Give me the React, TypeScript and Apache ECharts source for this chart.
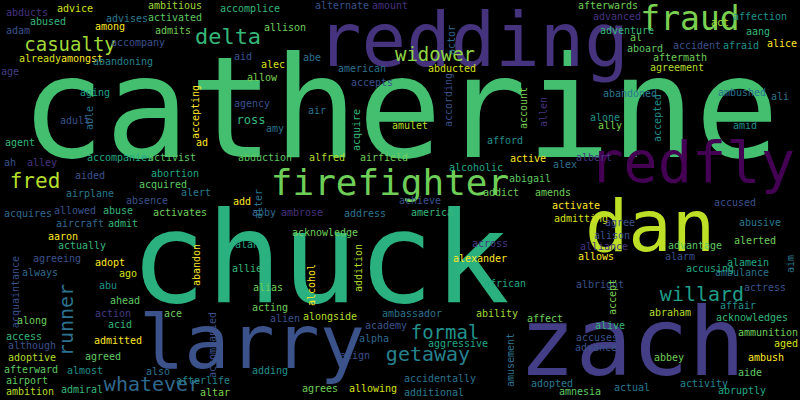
import { useEffect, useRef } from 'react';
import * as echarts from 'echarts';

// word, x, y, font size, colour, rotation
type Word = [string, number, number, number, string, number];

const bigWords: Word[] = [
    ['catherine', 400, 108, 140, '#44bf70', 0],
    ['chuck', 320, 258, 126, '#2bb07f', 0],
    ['zach', 632, 342, 94, '#433e85', 0],
    ['larry', 252, 342, 75, '#3b528b', 0],
    ['redding', 473, 40, 74, '#46337e', 0],
    ['redfly', 692, 162, 57, '#440154', 0],
    ['dan', 650, 226, 72, '#bddf26', 0],
    ['firefighter', 390, 182, 36, '#6ece58', 0],
    ['fraud', 690, 18, 33, '#7ad151', 0],
    ['delta', 228, 36, 22, '#35b779', 0],
    ['casualty', 70, 44, 19, '#a0da39', 0],
    ['widower', 435, 54, 19, '#90d743', 0],
    ['fred', 35, 181, 21, '#b5de2b', 0],
    ['getaway', 428, 354, 20, '#26828e', 0],
    ['willard', 702, 294, 20, '#1f9e89', 0],
    ['formal', 445, 332, 19, '#21918c', 0],
    ['runner', 66, 320, 20, '#2c728e', 90],
    ['whatever', 152, 384, 20, '#31688e', 0],
];

const smallWords: Word[] = [
    ['abducts', 27, 12, 10, '#46337e', 0], ['advice', 75, 8, 10, '#d0e11c', 0],
    ['abused', 48, 21, 10, '#35b779', 0], ['among', 110, 26, 10, '#fde725', 0],
    ['adam', 18, 30, 10, '#3b528b', 0], ['advises', 127, 18, 10, '#2a788e', 0],
    ['ambitious', 175, 5, 10, '#a0da39', 0], ['activated', 175, 17, 10, '#5ec962', 0],
    ['admits', 173, 30, 10, '#6ece58', 0], ['accompany', 138, 42, 10, '#3b528b', 0],
    ['already', 40, 58, 10, '#d8e219', 0], ['amongst', 82, 58, 10, '#fde725', 0],
    ['abandoning', 123, 61, 10, '#25848e', 0], ['age', 10, 71, 10, '#433e85', 0],
    ['aging', 95, 92, 10, '#1f9e89', 0], ['adult', 75, 120, 10, '#3b528b', 0],
    ['able', 89, 118, 10, '#2c728e', 90], ['agent', 20, 142, 10, '#35b779', 0],
    ['ah', 10, 162, 10, '#3b528b', 0], ['alley', 42, 162, 10, '#46337e', 0],
    ['accompanies', 120, 157, 10, '#22a884', 0], ['activist', 172, 157, 10, '#5ec962', 0],
    ['aided', 90, 175, 10, '#3b528b', 0], ['abortion', 175, 173, 10, '#22a884', 0],
    ['airplane', 90, 193, 10, '#2a788e', 0], ['absence', 147, 200, 10, '#3b528b', 0],
    ['acquired', 163, 184, 10, '#5ec962', 0], ['alert', 196, 192, 10, '#2a788e', 0],
    ['activates', 180, 212, 10, '#6ece58', 0], ['acquires', 28, 213, 10, '#31688e', 0],
    ['allowed', 75, 210, 10, '#3b528b', 0], ['abuse', 118, 210, 10, '#35b779', 0],
    ['aircraft', 80, 223, 10, '#31688e', 0], ['admit', 123, 223, 10, '#35b779', 0],
    ['aaron', 63, 236, 10, '#fde725', 0], ['actually', 82, 245, 10, '#35b779', 0],
    ['agreeing', 57, 258, 10, '#3b528b', 0], ['adopt', 110, 262, 10, '#fde725', 0],
    ['always', 40, 272, 10, '#31688e', 0], ['ago', 128, 273, 10, '#d8e219', 0],
    ['acquaintance', 15, 292, 10, '#3b528b', 90], ['abu', 108, 285, 10, '#21918c', 0],
    ['ahead', 125, 300, 10, '#5ec962', 0], ['along', 32, 320, 10, '#6ece58', 0],
    ['action', 113, 313, 10, '#443983', 0], ['acid', 120, 324, 10, '#35b779', 0],
    ['ace', 173, 313, 10, '#6ece58', 0], ['access', 24, 336, 10, '#35b779', 0],
    ['although', 32, 345, 10, '#3b528b', 0], ['admitted', 118, 340, 10, '#fde725', 0],
    ['adoptive', 32, 357, 10, '#b5de2b', 0], ['agreed', 103, 356, 10, '#5ec962', 0],
    ['afterward', 31, 369, 10, '#5ec962', 0], ['almost', 85, 370, 10, '#21918c', 0],
    ['also', 158, 371, 10, '#2c728e', 0], ['airport', 27, 380, 10, '#5ec962', 0],
    ['ambition', 30, 391, 10, '#b5de2b', 0], ['admiral', 82, 389, 10, '#35b779', 0],
    ['accompanied', 212, 345, 10, '#3b528b', 90], ['afterlife', 203, 380, 10, '#25848e', 0],
    ['altar', 215, 392, 10, '#7ad151', 0], ['abandon', 196, 265, 10, '#fde725', 90],
    ['ambrose', 302, 212, 10, '#46337e', 0], ['abby', 264, 212, 10, '#31688e', 0],
    ['add', 242, 201, 10, '#fde725', 0], ['alter', 258, 204, 10, '#2c728e', 90],
    ['alan', 247, 244, 10, '#22a884', 0], ['allie', 247, 268, 10, '#35b779', 0],
    ['alias', 268, 287, 10, '#6ece58', 0], ['acting', 270, 307, 10, '#6ece58', 0],
    ['alien', 285, 318, 10, '#3b528b', 0], ['alcohol', 311, 285, 10, '#fde725', 90],
    ['alongside', 330, 316, 10, '#b5de2b', 0], ['adding', 270, 370, 10, '#21918c', 0],
    ['agrees', 320, 388, 10, '#6ece58', 0], ['allowing', 373, 388, 10, '#d8e219', 0],
    ['addition', 358, 268, 10, '#b5de2b', 90], ['academy', 386, 325, 10, '#3b528b', 0],
    ['alpha', 374, 338, 10, '#31688e', 0], ['align', 355, 355, 10, '#3b528b', 0],
    ['ambassador', 412, 313, 10, '#2c728e', 0], ['aggressive', 458, 343, 10, '#22a884', 0],
    ['accidentally', 440, 378, 10, '#2c728e', 0], ['additional', 434, 392, 10, '#2a788e', 0],
    ['ability', 497, 313, 10, '#a0da39', 0], ['african', 505, 283, 10, '#22a884', 0],
    ['alexander', 480, 258, 10, '#fde725', 0], ['across', 490, 243, 10, '#443983', 0],
    ['acknowledge', 325, 232, 10, '#6ece58', 0], ['address', 365, 213, 10, '#2c728e', 0],
    ['achieve', 420, 200, 10, '#3b528b', 0], ['america', 432, 212, 10, '#35b779', 0],
    ['abduction', 265, 157, 10, '#5ec962', 0], ['alfred', 327, 157, 10, '#b5de2b', 0],
    ['airfield', 384, 157, 10, '#6ece58', 0], ['ad', 202, 142, 10, '#fde725', 0],
    ['accepting', 195, 112, 10, '#fde725', 90], ['agency', 252, 103, 10, '#3b528b', 0],
    ['ross', 251, 120, 12, '#35b779', 0], ['amy', 275, 128, 10, '#2c728e', 0],
    ['air', 317, 110, 10, '#2c728e', 0], ['aid', 243, 56, 10, '#3b528b', 0],
    ['alec', 273, 64, 10, '#d8e219', 0], ['allow', 262, 77, 10, '#7ad151', 0],
    ['allison', 285, 27, 10, '#6ece58', 0], ['accomplice', 250, 8, 10, '#35b779', 0],
    ['abe', 312, 57, 10, '#2c728e', 0], ['american', 362, 68, 10, '#2c728e', 0],
    ['accepts', 372, 82, 10, '#3b528b', 0], ['abducted', 452, 68, 10, '#d8e219', 0],
    ['acquire', 356, 130, 10, '#35b779', 90], ['amulet', 410, 125, 10, '#b5de2b', 0],
    ['according', 448, 100, 10, '#3b528b', 90], ['actor', 451, 40, 10, '#31688e', 90],
    ['alternate', 342, 5, 10, '#3b528b', 0], ['amount', 390, 5, 10, '#46337e', 0],
    ['account', 523, 108, 10, '#7ad151', 90], ['allen', 543, 112, 10, '#46337e', 90],
    ['afford', 505, 140, 10, '#21918c', 0], ['alcoholic', 476, 167, 10, '#22a884', 0],
    ['active', 528, 158, 10, '#fde725', 0], ['alex', 565, 164, 10, '#2c728e', 0],
    ['albert', 594, 157, 10, '#443983', 0], ['abigail', 530, 178, 10, '#5ec962', 0],
    ['addict', 501, 192, 10, '#6ece58', 0], ['amends', 553, 192, 10, '#6ece58', 0],
    ['activate', 576, 205, 10, '#fde725', 0], ['admitting', 581, 218, 10, '#d8e219', 0],
    ['agree', 620, 222, 10, '#3b528b', 0], ['alison', 612, 235, 10, '#3b528b', 0],
    ['alliance', 604, 246, 10, '#46337e', 0], ['allows', 596, 256, 10, '#fde725', 0],
    ['albright', 600, 284, 10, '#3b528b', 0], ['accept', 612, 297, 10, '#7ad151', 90],
    ['alive', 610, 325, 10, '#35b779', 0], ['accuses', 597, 337, 10, '#3b528b', 0],
    ['advance', 596, 347, 10, '#3b528b', 0], ['affect', 545, 318, 10, '#6ece58', 0],
    ['amusement', 510, 360, 10, '#2c728e', 90], ['adopted', 552, 383, 10, '#2a788e', 0],
    ['amnesia', 580, 391, 10, '#5ec962', 0], ['actual', 632, 387, 10, '#2a788e', 0],
    ['activity', 704, 383, 10, '#25848e', 0], ['abruptly', 742, 390, 10, '#22a884', 0],
    ['abbey', 669, 357, 10, '#6ece58', 0], ['ambush', 766, 357, 10, '#fde725', 0],
    ['aide', 750, 372, 10, '#5ec962', 0], ['aged', 786, 343, 10, '#d8e219', 0],
    ['ammunition', 768, 332, 10, '#6ece58', 0], ['acknowledges', 752, 317, 10, '#35b779', 0],
    ['abraham', 670, 312, 10, '#b5de2b', 0], ['affair', 738, 305, 10, '#21918c', 0],
    ['actress', 765, 287, 10, '#3b528b', 0], ['ambulance', 742, 272, 10, '#2c728e', 0],
    ['alamein', 748, 262, 10, '#22a884', 0], ['aim', 790, 264, 10, '#2c728e', 90],
    ['accusing', 710, 268, 10, '#22a884', 0], ['alarm', 680, 256, 10, '#3b528b', 0],
    ['advantage', 695, 245, 10, '#5ec962', 0], ['alerted', 755, 240, 10, '#6ece58', 0],
    ['abusive', 760, 222, 10, '#2a788e', 0], ['accused', 735, 202, 10, '#3b528b', 0],
    ['alone', 605, 117, 10, '#21918c', 0], ['ally', 610, 125, 10, '#7ad151', 0],
    ['accepted', 657, 118, 10, '#21918c', 90], ['amid', 745, 125, 10, '#21918c', 0],
    ['abandoned', 630, 93, 10, '#2a788e', 0], ['ambushed', 742, 92, 10, '#2c728e', 0],
    ['ali', 780, 96, 10, '#2c728e', 0], ['agreement', 677, 67, 10, '#b5de2b', 0],
    ['aftermath', 680, 57, 10, '#6ece58', 0], ['aboard', 645, 48, 10, '#5ec962', 0],
    ['accident', 697, 45, 10, '#3b528b', 0], ['afraid', 741, 45, 10, '#21918c', 0],
    ['alice', 782, 43, 10, '#fde725', 0], ['al', 636, 37, 10, '#6ece58', 0],
    ['adventure', 627, 30, 10, '#35b779', 0], ['aang', 758, 31, 10, '#35b779', 0],
    ['act', 720, 22, 10, '#a0da39', 0], ['affection', 760, 16, 10, '#21918c', 0],
    ['advanced', 617, 16, 10, '#46337e', 0], ['afterwards', 608, 5, 10, '#6ece58', 0],
];

const words: Word[] = [...bigWords, ...smallWords];

const App = () => {
    const chartRef = useRef<HTMLDivElement>(null);

    useEffect(() => {
        if (!chartRef.current) return;
        document.body.style.margin = '0';
        const chart = echarts.init(chartRef.current, undefined, { renderer: 'svg' });

        chart.setOption({
            animation: false,
            backgroundColor: '#000',
            grid: { left: 0, right: 0, top: 0, bottom: 0 },
            xAxis: { type: 'value', min: 0, max: 800, show: false },
            yAxis: { type: 'value', min: 0, max: 400, inverse: true, show: false },
            series: [
                {
                    type: 'scatter',
                    symbolSize: 0,
                    silent: true,
                    itemStyle: { opacity: 1 },
                    data: words.map(([name, x, y, size, color, rot]) => ({
                        name,
                        value: [x, y],
                        label: {
                            show: true,
                            position: 'inside',
                            formatter: '{b}',
                            fontFamily: 'DejaVu Sans Mono',
                            fontSize: size,
                            color,
                            opacity: 1,
                            rotate: rot,
                            lineHeight: size,
                        },
                    })),
                },
            ],
        });

        return () => chart.dispose();
    }, []);

    return <div ref={chartRef} style={{ width: '800px', height: '400px' }} />;
};

export default App;
